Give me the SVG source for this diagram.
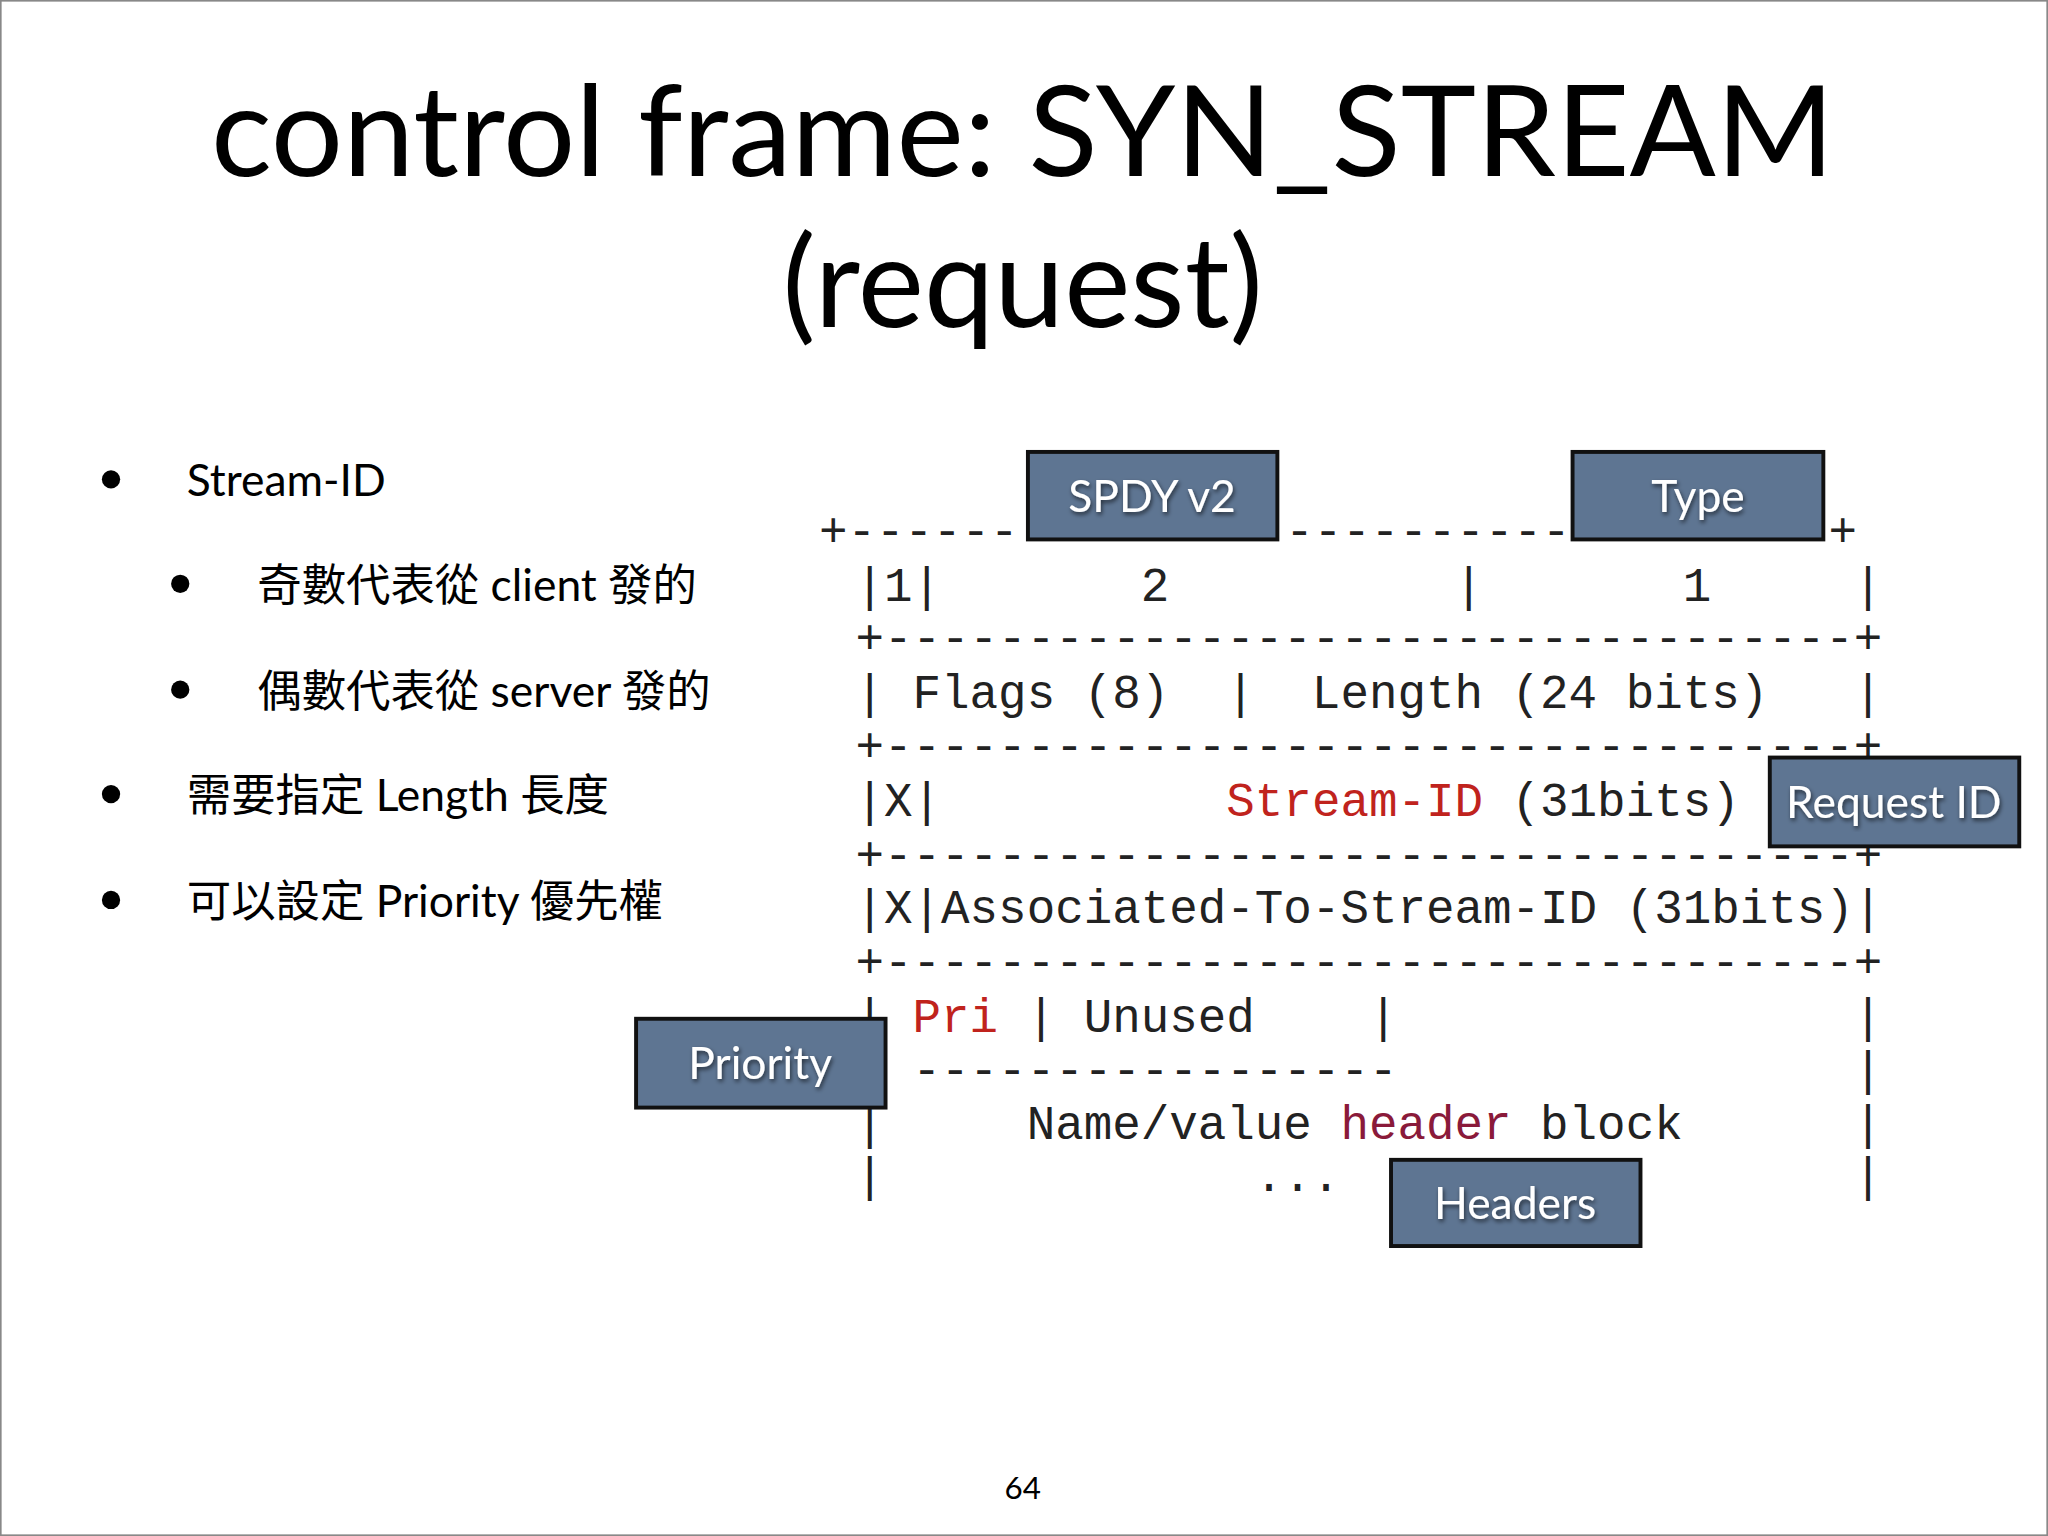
<svg xmlns="http://www.w3.org/2000/svg" width="2048" height="1536" viewBox="0 0 2048 1536">
<style>
.t{font-family:Lato,"Noto Sans CJK TC","Noto Sans",sans-serif;fill:#000}
.m{font-family:"Liberation Mono",monospace;font-size:36.4px;fill:#222;white-space:pre}
.r{fill:#c0231d}
.h{fill:#8a1a3a}
.box{fill:#5e7592;stroke:#111;stroke-width:3}
.bl{font-family:Lato,"Open Sans",sans-serif;font-size:34px;fill:#fff;text-anchor:middle}
</style>
<defs><filter id="sh"><feDropShadow dx="1" dy="2" stdDeviation="1.5" flood-color="#000" flood-opacity="0.6"/></filter></defs>
<rect width="2048" height="1536" fill="#fff"/>
<g transform="scale(1.30612)">
<rect x="0.5" y="0.5" width="1567" height="1175" fill="none" stroke="#888" stroke-width="1.5"/>
<g id="title" class="t">
<text x="783" y="135" font-size="96" text-anchor="middle" textLength="1243" lengthAdjust="spacingAndGlyphs">control frame: SYN_STREAM</text>
<text x="783" y="250" font-size="96" text-anchor="middle">(request)</text>
</g>
<g id="bullets" class="t" font-size="34">
<circle cx="85" cy="367" r="7"/><text x="143" y="380">Stream-ID</text>
<circle cx="138" cy="447" r="7"/><text x="197" y="460">奇數代表從 client 發的</text>
<circle cx="138" cy="528" r="7"/><text x="197" y="541">偶數代表從 server 發的</text>
<circle cx="85" cy="608" r="7"/><text x="143" y="621">需要指定 Length 長度</text>
<circle cx="85" cy="689" r="7"/><text x="143" y="702">可以設定 Priority 優先權</text>
</g>
<g id="frame" class="m">
<text xml:space="preserve" x="627" y="418">+------</text>
<text xml:space="preserve" x="984" y="418">----------</text>
<text xml:space="preserve" x="1400" y="418">+</text>
<text xml:space="preserve" x="655" y="460">|1|       2          |       1     |</text>
<text xml:space="preserve" x="655" y="500">+----------------------------------+</text>
<text xml:space="preserve" x="655" y="542">| Flags (8)  |  Length (24 bits)   |</text>
<text xml:space="preserve" x="655" y="583">+----------------------------------+</text>
<text xml:space="preserve" x="655" y="625">|X|          <tspan class="r">Stream-ID</tspan> (31bits)</text>
<text xml:space="preserve" x="655" y="666">+----------------------------------+</text>
<text xml:space="preserve" x="655" y="707">|X|Associated-To-Stream-ID (31bits)|</text>
<text xml:space="preserve" x="655" y="748">+----------------------------------+</text>
<text xml:space="preserve" x="655" y="790">| <tspan class="r">Pri</tspan> | Unused    |                |</text>
<text xml:space="preserve" x="655" y="831">  -----------------                |</text>
<text xml:space="preserve" x="655" y="872">|     Name/value <tspan class="h">header</tspan> block      |</text>
<text xml:space="preserve" x="655" y="912">|             ...                  |</text>
</g>
<g id="spdy"><rect class="box" x="787" y="346" width="191" height="67"/><text class="bl" x="882" y="392" filter="url(#sh)">SPDY v2</text></g>
<g id="type"><rect class="box" x="1204" y="346" width="192" height="67"/><text class="bl" x="1300" y="392" filter="url(#sh)">Type</text></g>
<g id="reqid"><rect class="box" x="1355" y="580" width="191" height="68"/><text class="bl" x="1450" y="626" filter="url(#sh)">Request ID</text></g>
<g id="priority"><rect class="box" x="487" y="780" width="191" height="68"/><text class="bl" x="582" y="826" filter="url(#sh)">Priority</text></g>
<g id="headers"><rect class="box" x="1065" y="888" width="191" height="66"/><text class="bl" x="1160" y="933" filter="url(#sh)">Headers</text></g>
<text class="t" x="783" y="1148" font-size="24" text-anchor="middle">64</text>
</g>
</svg>
